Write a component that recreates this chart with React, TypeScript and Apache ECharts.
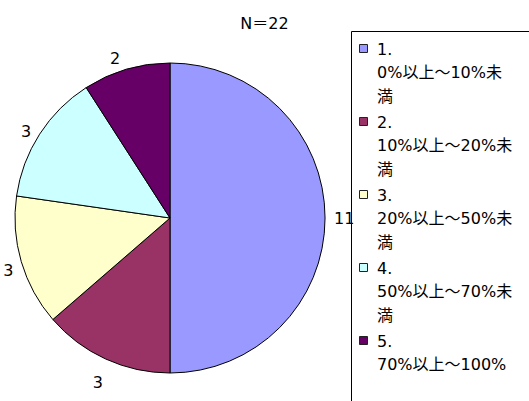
import React, { useEffect, useRef } from "react";
import * as echarts from "echarts";

const title = "N＝22";
const categories = [
  "1.\n0%以上～10%未\n満",
  "2.\n10%以上～20%未\n満",
  "3.\n20%以上～50%未\n満",
  "4.\n50%以上～70%未\n満",
  "5.\n70%以上～100%",
];
const values = [11, 3, 3, 3, 2];
const colors = ["#9999FF", "#993366", "#FFFFCC", "#CCFFFF", "#660066"];

const FONT = "'DejaVu Sans', 'Noto Sans CJK JP', sans-serif";
// small nudges of the value labels (layout only)
const labelNudge: [number, number][] = [[0, 0], [4, 20], [1, 8], [0, -1], [0, -7]];

export default function App() {
  const ref = useRef<HTMLDivElement>(null);
  useEffect(() => {
    if (!ref.current) return;
    const chart = echarts.init(ref.current, undefined, { renderer: "svg" });
    const legendX = 351;
    const legendTop = 31;
    const pitch = 73;
    const firstCenter = 49;
    const lineH = 23.5;
    const legendEls: any[] = [
      {
        type: "rect",
        shape: { x: legendX + 0.5, y: legendTop + 0.5, width: 300, height: 500 },
        style: { fill: "#fff", stroke: "#000", lineWidth: 1 },
        silent: true,
        z: 0,
      },
    ];
    categories.forEach((c, i) => {
      const cy = firstCenter + i * pitch;
      legendEls.push({
        type: "rect",
        shape: { x: 359.5, y: cy - 4.5, width: 8, height: 8 },
        style: { fill: colors[i], stroke: "#222", lineWidth: 1 },
        z: 1,
      });
      legendEls.push({
        type: "text",
        x: 377,
        y: cy - lineH / 2,
        style: {
          text: c,
          font: `16px ${FONT}`,
          fontSize: 16,
          fontFamily: FONT,
          lineHeight: lineH,
          fill: "#000",
          verticalAlign: "top",
          align: "left",
        },
        z: 1,
      });
    });

    chart.setOption({
      animation: false,
      backgroundColor: "#fff",
      title: {
        text: title,
        left: "center",
        top: 15,
        padding: 0,
        textStyle: { fontSize: 16, fontWeight: "normal", color: "#000", fontFamily: FONT },
      },
      graphic: legendEls,
      series: [
        {
          type: "pie",
          center: [170, 218],
          radius: 155,
          startAngle: 90,
          clockwise: true,
          avoidLabelOverlap: false,
          data: values.map((v, i) => ({
            value: v,
            name: categories[i],
            itemStyle: { color: colors[i] },
          })),
          itemStyle: { borderColor: "#000", borderWidth: 1 },
          label: {
            show: true,
            position: "outside",
            formatter: "{c}",
            fontSize: 16,
            fontFamily: FONT,
            color: "#000",
          },
          labelLine: { show: false, length: 4, length2: 0 },
          labelLayout: (p: any) => {
            const n = labelNudge[p.dataIndex] || [0, 0];
            return { dx: n[0], dy: n[1] };
          },
          emphasis: { disabled: true },
        },
      ],
    });
    return () => chart.dispose();
  }, []);
  return (
    <div
      ref={ref}
      style={{ position: "absolute", left: 0, top: 0, width: 529, height: 401 }}
    />
  );
}
